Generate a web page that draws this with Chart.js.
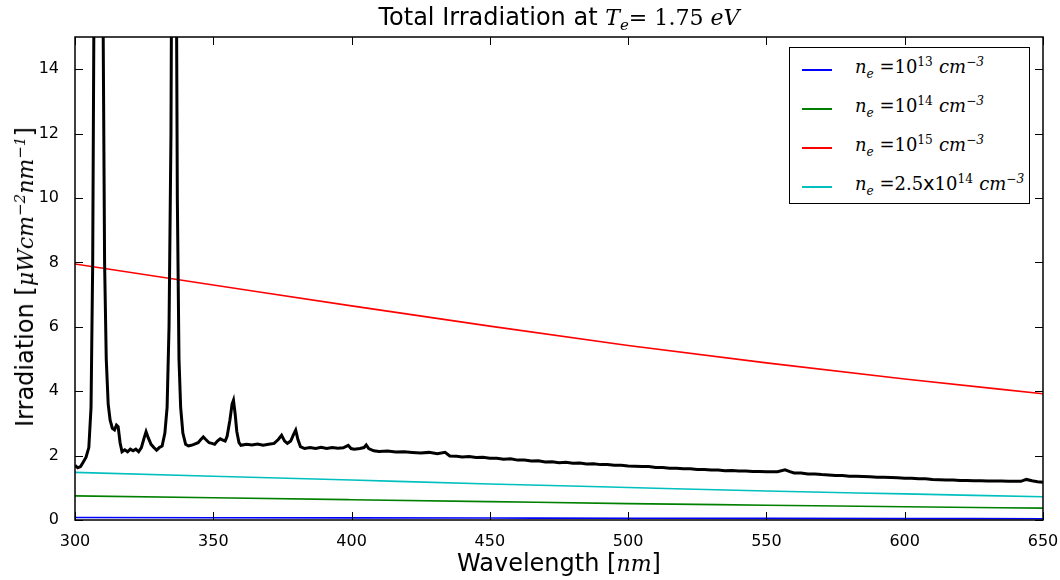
<!DOCTYPE html>
<html>
<head>
<meta charset="utf-8">
<script src="https://cdn.jsdelivr.net/npm/chart.js@4.4.1/dist/chart.umd.min.js"></script>
<style>
  body { margin: 0; background: #fff; }
  #wrap { position: relative; width: 1060px; height: 580px; }
  #chart { position: absolute; left: 0; top: 0; }
  .lbl { position: absolute; font-family: "DejaVu Sans", sans-serif; color: #000; white-space: nowrap; }
  .math { font-family: "DejaVu Serif", serif; font-style: italic; font-size: 92%; }
  .rm { font-family: "DejaVu Serif", serif; font-size: 92%; }
  sup, sub { font-size: 68%; line-height: 0; }
  #title { left: 0; width: 1118px; top: 3px; text-align: center; font-size: 24px; }
  #xlabel { left: 0; width: 1118px; top: 549px; text-align: center; font-size: 24px; }
  #ylabel { left: 25px; top: 277px; font-size: 24px; transform: translate(-50%, -50%) rotate(-90deg); }
  #legend { left: 789px; top: 47px; width: 239px; height: 155px; border: 1.5px solid #000; background: #fff; }
  .row { position: absolute; left: 0; height: 30px; }
  .swatch { position: absolute; left: 12px; top: 14px; width: 30px; height: 2px; }
  .txt { position: absolute; left: 65px; top: 0px; font-size: 19.5px; white-space: nowrap; }
</style>
</head>
<body>
<div id="wrap">
  <canvas id="chart" width="1060" height="580"></canvas>
  <div class="lbl" id="title">Total Irradiation at <span class="math">T<sub>e</sub></span><span class="rm">= 1.75 </span><span class="math">eV</span></div>
  <div class="lbl" id="xlabel">Wavelength [<span class="math">nm</span>]</div>
  <div class="lbl" id="ylabel">Irradiation [<span class="math">μWcm<sup>−2</sup>nm<sup>−1</sup></span>]</div>
  <div class="lbl" id="legend"></div>
</div>
<script>
// measured spectrum (black)
const spectrumNm = [
  300, 301, 302, 303, 304, 305, 305.8, 306.4, 306.8, 307.5, 308.5, 309.5, 310.2, 310.7, 311.3, 312, 312.7,
  313.5, 314.3, 315, 315.6, 316.3, 317, 318, 319, 320, 321, 322, 323, 324, 325, 325.7, 326.5, 327.5,
  328.5, 329.5, 330.5, 331.5, 332.5, 333.3, 334, 334.7, 335.3, 335.9, 336.4, 337, 337.6, 338.2, 339,
  340, 341, 342, 343, 344.5, 345.5, 346.4, 347.3, 348.5, 349.5, 350.5, 351.5, 352.5, 353.5, 354.3,
  355, 356, 356.8, 357.3, 357.9, 358.5, 359.3, 360, 362, 364, 366, 368, 370, 372, 373.5, 374.7,
  375.8, 376.8, 378, 379, 379.8, 380.6, 381.5, 383, 385, 387, 389, 391, 393, 395, 397, 398.8, 399.8,
  401, 403, 404.5, 405.3, 406.2, 408, 410, 413, 416, 419, 422, 425, 428, 431, 433.8, 435.5, 438, 440,
  442.5, 445, 447.5, 450, 452.5, 455, 457.5, 460, 462.5, 465, 467.5, 470, 472.5, 475, 477.5, 480,
  482.5, 485, 487.5, 490, 492.5, 495, 497.5, 500, 502.5, 505, 507.5, 510, 512.5, 515, 517.5, 520,
  522.5, 525, 527.5, 530, 532.5, 535, 537.5, 540, 542.5, 545, 547.5, 550, 554, 556.7, 558.5, 560,
  562.5, 565, 567.5, 570, 572.5, 575, 577.5, 580, 582.5, 585, 587.5, 590, 592.5, 595, 597.5, 600,
  602.5, 605, 607.5, 610, 612.5, 615, 617.5, 620, 622.5, 625, 627.5, 630, 632.5, 635, 637.5, 640,
  642, 644, 646, 648, 650
];
const spectrumIrr = [
  1.70, 1.62, 1.66, 1.80, 1.95, 2.25, 3.5, 8, 15, 35, 45, 40, 15, 8, 5, 3.6, 3.1,
  2.85, 2.80, 2.95, 2.90, 2.40, 2.12, 2.18, 2.12, 2.20, 2.15, 2.20, 2.12, 2.25, 2.55, 2.74, 2.55, 2.35,
  2.25, 2.17, 2.25, 2.30, 2.70, 3.5, 6, 12, 25, 30, 22, 10, 5, 3.5, 2.7,
  2.35, 2.30, 2.32, 2.35, 2.40, 2.50, 2.58, 2.50, 2.40, 2.38, 2.35, 2.45, 2.52, 2.48, 2.45,
  2.60, 3.10, 3.60, 3.72, 3.30, 2.75, 2.40, 2.32, 2.35, 2.33, 2.36, 2.32, 2.35, 2.38, 2.50, 2.63,
  2.45, 2.38, 2.45, 2.65, 2.79, 2.50, 2.28, 2.22, 2.25, 2.22, 2.26, 2.22, 2.25, 2.23, 2.24, 2.32, 2.22,
  2.20, 2.22, 2.25, 2.33, 2.22, 2.15, 2.13, 2.14, 2.11, 2.12, 2.10, 2.08, 2.10, 2.06, 2.10, 1.99, 1.98, 1.96,
  1.97, 1.94, 1.95, 1.92, 1.92, 1.89, 1.90, 1.86, 1.86, 1.83, 1.84, 1.80, 1.81, 1.78, 1.79, 1.76,
  1.77, 1.74, 1.75, 1.72, 1.72, 1.70, 1.70, 1.68, 1.67, 1.66, 1.66, 1.63, 1.63, 1.61, 1.61, 1.59,
  1.59, 1.57, 1.57, 1.55, 1.55, 1.53, 1.54, 1.52, 1.52, 1.51, 1.51, 1.50, 1.50, 1.56, 1.50, 1.46,
  1.46, 1.43, 1.43, 1.41, 1.40, 1.38, 1.38, 1.36, 1.36, 1.35, 1.34, 1.33, 1.33, 1.32, 1.31, 1.30,
  1.30, 1.28, 1.28, 1.26, 1.25, 1.24, 1.24, 1.23, 1.23, 1.22, 1.22, 1.21, 1.21, 1.21, 1.20, 1.20,
  1.20, 1.26, 1.22, 1.19, 1.17
];

// model curves
const modelNm = [300, 350, 400, 450, 500, 550, 600, 650];
const ne1e13 = [0.078, 0.072, 0.066, 0.060, 0.054, 0.049, 0.044, 0.039];
const ne1e14 = [0.75, 0.69, 0.63, 0.57, 0.51, 0.46, 0.41, 0.37];
const ne1e15 = [7.95, 7.30, 6.65, 6.02, 5.42, 4.88, 4.38, 3.92];
const ne25e14 = [1.48, 1.36, 1.24, 1.12, 1.01, 0.90, 0.81, 0.72];

const seriesNames = [
  '<span class="math">n<sub>e</sub></span><span class="rm"> =10<sup>13</sup></span> <span class="math">cm<sup>−3</sup></span>',
  '<span class="math">n<sub>e</sub></span><span class="rm"> =10<sup>14</sup></span> <span class="math">cm<sup>−3</sup></span>',
  '<span class="math">n<sub>e</sub></span><span class="rm"> =10<sup>15</sup></span> <span class="math">cm<sup>−3</sup></span>',
  '<span class="math">n<sub>e</sub></span><span class="rm"> =2.5</span>x<span class="rm">10<sup>14</sup></span> <span class="math">cm<sup>−3</sup></span>'
];
const seriesColors = ["#0000ff", "#008000", "#ff0000", "#00bfbf"];
const seriesValues = [ne1e13, ne1e14, ne1e15, ne25e14];
const yTickValues = [0, 2, 4, 6, 8, 10, 12, 14];

const toPoints = (xs, ys) => xs.map((x, i) => ({ x, y: ys[i] }));

const datasets = [
  {
    label: "measured",
    data: toPoints(spectrumNm, spectrumIrr),
    borderColor: "#000",
    borderWidth: 3,
    pointRadius: 0,
    tension: 0,
    clip: 0
  }
];
seriesValues.forEach((vals, i) => {
  datasets.push({
    label: "series" + i,
    data: toPoints(modelNm, vals),
    borderColor: seriesColors[i],
    borderWidth: 1.6,
    pointRadius: 0,
    cubicInterpolationMode: "monotone",
    clip: 0
  });
});

// matplotlib-style frame with inward ticks
const framePlugin = {
  id: "frame",
  afterDatasetsDraw(chart) {
    const { ctx, chartArea: a, scales: { x, y } } = chart;
    ctx.save();
    ctx.strokeStyle = "#000";
    ctx.lineWidth = 1;
    ctx.beginPath();
    x.ticks.forEach(t => {
      const px = Math.round(x.getPixelForValue(t.value)) + 0.5;
      ctx.moveTo(px, a.bottom); ctx.lineTo(px, a.bottom - 8);
      ctx.moveTo(px, a.top); ctx.lineTo(px, a.top + 8);
    });
    y.ticks.forEach(t => {
      const py = Math.round(y.getPixelForValue(t.value)) + 0.5;
      ctx.moveTo(a.left, py); ctx.lineTo(a.left + 8, py);
      ctx.moveTo(a.right, py); ctx.lineTo(a.right - 8, py);
    });
    ctx.stroke();
    ctx.lineWidth = 1.5;
    ctx.strokeRect(a.left, a.top, a.right - a.left, a.bottom - a.top);
    ctx.restore();
  }
};

const tickFont = { family: "DejaVu Sans", size: 16 };

new Chart(document.getElementById("chart"), {
  type: "line",
  data: { datasets },
  options: {
    responsive: false,
    animation: false,
    devicePixelRatio: 1,
    layout: { padding: { top: 37, right: 17, left: 0, bottom: 0 } },
    plugins: { legend: { display: false }, tooltip: { enabled: false }, title: { display: false } },
    scales: {
      x: {
        type: "linear",
        min: 300,
        max: 650,
        grid: { display: false },
        border: { display: false },
        ticks: { stepSize: 50, font: tickFont, color: "#000", padding: 4, maxRotation: 0 },
        afterFit: s => { s.height = 60; s.paddingLeft = 0; s.paddingRight = 0; }
      },
      y: {
        min: 0,
        max: 15,
        grid: { display: false },
        border: { display: false },
        ticks: { font: tickFont, color: "#000", padding: 8 },
        afterBuildTicks: s => { s.ticks = yTickValues.map(v => ({ value: v })); },
        afterFit: s => { s.width = 75; s.paddingTop = 0; s.paddingBottom = 0; }
      }
    }
  },
  plugins: [framePlugin]
});

// legend box
const legend = document.getElementById("legend");
seriesNames.forEach((name, i) => {
  const row = document.createElement("div");
  row.className = "row";
  row.style.top = (7 + i * 39) + "px";
  row.innerHTML = '<div class="swatch" style="background:' + seriesColors[i] + '"></div><div class="txt">' + name + '</div>';
  legend.appendChild(row);
});
</script>
</body>
</html>
